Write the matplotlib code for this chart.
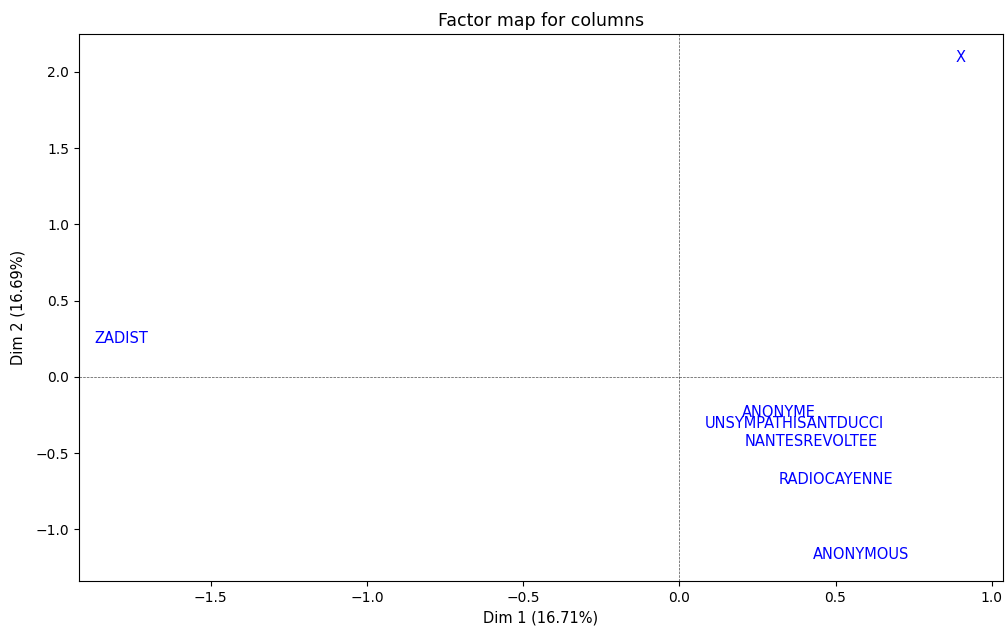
import matplotlib
matplotlib.use("Agg")
import matplotlib.pyplot as plt

# column coordinates on the first two dimensions
labels = ["X", "ZADIST", "ANONYME", "UNSYMPATHISANTDUCCI", "NANTESREVOLTEE",
          "RADIOCAYENNE", "ANONYMOUS"]
dim1 = [0.901, -1.788, 0.318, 0.369, 0.421, 0.501, 0.581]
dim2 = [2.092, 0.249, -0.230, -0.308, -0.426, -0.675, -1.167]

fig = plt.figure(figsize=(10.06, 6.3), dpi=100)
ax = fig.add_axes([0.0785, 0.0778, 0.9185, 0.8682])

for lab, x, y in zip(labels, dim1, dim2):
    ax.text(x, y, lab, color="blue", ha="center", va="center", fontsize=10.5)

ax.axhline(0, color="black", linestyle="--", linewidth=0.5, alpha=0.7)
ax.axvline(0, color="black", linestyle="--", linewidth=0.5, alpha=0.7)

ax.set_xlim(-1.922, 1.036)
ax.set_ylim(-1.338, 2.249)
ax.set_xlabel("Dim 1 (16.71%)", fontsize=10.5)
ax.set_ylabel("Dim 2 (16.69%)", fontsize=10.5, labelpad=7)
ax.set_title("Factor map for columns", fontsize=12.5)

fig.savefig("out.png", dpi=100)
